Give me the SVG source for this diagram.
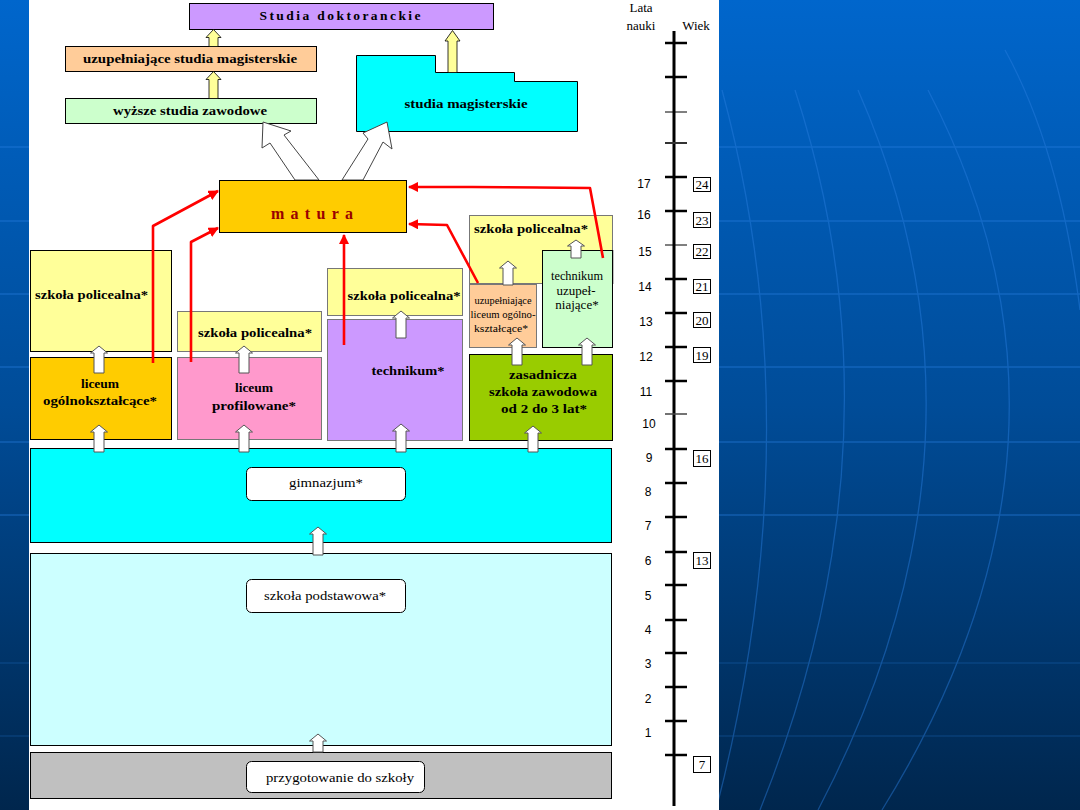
<svg xmlns="http://www.w3.org/2000/svg" width="1080" height="810" viewBox="0 0 1080 810">
<defs>
<linearGradient id="bg" x1="0" y1="0" x2="0" y2="1">
<stop offset="0" stop-color="#0066cc"/>
<stop offset="0.5" stop-color="#004c98"/>
<stop offset="1" stop-color="#00264d"/>
</linearGradient>
<marker id="rh" viewBox="0 0 10 10" refX="9" refY="5" markerWidth="4" markerHeight="4" orient="auto" markerUnits="strokeWidth">
<path d="M0,0 L10,5 L0,10 z" fill="#ff0000"/>
</marker>
<style>
.bx{stroke:#000;stroke-width:1}
.bg2{stroke:#777;stroke-width:1}
.b{font-family:"Liberation Serif",serif;font-weight:bold;font-size:13.5px;fill:#000}
.r{font-family:"Liberation Serif",serif;font-size:13px;fill:#000}
.sm{font-family:"Liberation Serif",serif;font-size:10px;fill:#000}
.lab{fill:#fff;stroke:#000;stroke-width:1}
.wa{fill:#fff;stroke:#555;stroke-width:1}
.ya{fill:#ffff99;stroke:#000;stroke-width:0.8}
.ha{fill:#fff;stroke:#444;stroke-width:1}
.red{fill:none;stroke:#ff0000;stroke-width:2.6;stroke-linejoin:round}
.tk{stroke:#000;stroke-width:2.5}
.tn{stroke:#000;stroke-width:1}
.num{font-family:"Liberation Sans",sans-serif;font-size:12px;fill:#000}
.age{font-family:"Liberation Serif",serif;font-size:13px;fill:#000}
.bgl{fill:none;stroke:#2a7fe0;stroke-width:1.3;opacity:0.45}
</style>
</defs>

<!-- background -->
<rect x="0" y="0" width="1080" height="810" fill="url(#bg)"/>
<g class="bgl">
<line x1="0" y1="147" x2="1080" y2="147"/>
<line x1="0" y1="221" x2="1080" y2="221"/>
<line x1="0" y1="294" x2="1080" y2="294"/>
<line x1="0" y1="367" x2="1080" y2="367"/>
<line x1="0" y1="442" x2="1080" y2="442"/>
<line x1="0" y1="515" x2="1080" y2="515"/>
<line x1="0" y1="663" x2="1080" y2="663" opacity="0.5"/>
<line x1="0" y1="736" x2="1080" y2="736" opacity="0.5"/>
<path d="M722,90 Q814,430 716,810"/>
<path d="M795,90 Q909,440 760,810"/>
<path d="M858,90 Q1012,440 818,810"/>
<path d="M928,90 Q1111,440 882,810"/>
<path d="M1005,50 Q1060,150 1080,310"/>
</g>
<rect x="29" y="0" width="690" height="810" fill="#fff"/>

<!-- top tier -->
<g id="studia-doktoranckie">
<rect class="bx" x="189.5" y="3.5" width="304" height="26" fill="#cc99ff"/>
<text class="b" x="340" y="20" text-anchor="middle" textLength="161" lengthAdjust="spacing">Studia doktoranckie</text>
</g>
<g id="uzup-studia-mag">
<rect class="bx" x="65.5" y="46.5" width="251" height="25" fill="#ffcc99"/>
<text class="b" x="190" y="63" text-anchor="middle" textLength="214" lengthAdjust="spacingAndGlyphs">uzupełniające studia magisterskie</text>
</g>
<g id="wyzsze-studia">
<rect class="bx" x="65.5" y="98.5" width="251" height="25" fill="#ccffcc"/>
<text class="b" x="190" y="115" text-anchor="middle" textLength="154" lengthAdjust="spacingAndGlyphs">wyższe studia zawodowe</text>
</g>
<g id="studia-magisterskie">
<polygon class="bx" points="356.5,55.5 435.5,55.5 435.5,72.5 514.5,72.5 514.5,81.5 577.5,81.5 577.5,131.5 356.5,131.5" fill="#00ffff"/>
<text class="b" x="466" y="108" text-anchor="middle" textLength="123" lengthAdjust="spacingAndGlyphs">studia magisterskie</text>
</g>

<!-- yellow arrows -->
<g id="yellow-arrows">
<polygon class="ya" points="213.5,29.5 221,37.5 218,37.5 218,46.5 209,46.5 209,37.5 206,37.5"/>
<polygon class="ya" points="213.5,71.5 221,79.5 218,79.5 218,98.5 209,98.5 209,79.5 206,79.5"/>
<polygon class="ya" points="452.5,30.5 460,41 457,41 457,72.5 448,72.5 448,41 445,41"/>
</g>

<!-- hollow arrows from matura -->
<g id="hollow-arrows">
<polygon class="ha" points="263,122 291,131 284,135 319,180 295,180 270,143 262,148"/>
<polygon class="ha" points="387,122 392,149 383,142 363,180 342,180 368,139 363,133"/>
</g>

<g id="matura">
<rect class="bx" x="219.5" y="180.5" width="187" height="52" fill="#ffcc00"/>
<text x="312" y="219" text-anchor="middle" font-family="'Liberation Serif',serif" font-weight="bold" font-size="16" fill="#990000" textLength="82" lengthAdjust="spacing">matura</text>
</g>

<!-- upper-secondary tier -->
<g id="policealna-1">
<rect class="bx" x="30.5" y="250.5" width="141" height="101" fill="#ffff99"/>
<text class="b" x="35" y="299" textLength="113" lengthAdjust="spacingAndGlyphs">szkoła policealna*</text>
</g>
<g id="liceum-ogolnoksztalcace">
<rect class="bx" x="30.5" y="357.5" width="141" height="82" fill="#ffcc00"/>
<text class="b" x="100" y="388" text-anchor="middle">liceum</text>
<text class="b" x="100" y="405" text-anchor="middle" textLength="114" lengthAdjust="spacingAndGlyphs">ogólnokształcące*</text>
</g>
<g id="policealna-2">
<rect class="bg2" x="177.5" y="311.5" width="144" height="40" fill="#ffff99"/>
<text class="b" x="255" y="337" text-anchor="middle" textLength="114" lengthAdjust="spacingAndGlyphs">szkoła policealna*</text>
</g>
<g id="liceum-profilowane">
<rect class="bg2" x="177.5" y="357.5" width="144" height="82" fill="#ff99cc"/>
<text class="b" x="254" y="392" text-anchor="middle">liceum</text>
<text class="b" x="254" y="410" text-anchor="middle" textLength="84" lengthAdjust="spacingAndGlyphs">profilowane*</text>
</g>
<g id="policealna-3">
<rect class="bg2" x="327.5" y="268.5" width="135" height="47" fill="#ffff99"/>
<text class="b" x="404" y="300" text-anchor="middle" textLength="113" lengthAdjust="spacingAndGlyphs">szkoła policealna*</text>
</g>
<g id="technikum">
<rect class="bg2" x="327.5" y="319.5" width="135" height="121" fill="#cc99ff"/>
<text class="b" x="408" y="375" text-anchor="middle" textLength="73" lengthAdjust="spacingAndGlyphs">technikum*</text>
</g>
<g id="policealna-4">
<rect class="bg2" x="469.5" y="215.5" width="143" height="68" fill="#ffff99"/>
<line x1="612.5" y1="250" x2="612.5" y2="284" stroke="#000" stroke-width="1.5"/>
<text class="b" x="474" y="233" textLength="114" lengthAdjust="spacingAndGlyphs">szkoła policealna*</text>
</g>
<g id="uzup-liceum">
<rect class="bg2" x="469.5" y="284.5" width="67" height="63" fill="#ffcc99"/>
<text class="sm" x="503" y="304" text-anchor="middle" textLength="57" lengthAdjust="spacingAndGlyphs">uzupełniające</text>
<text class="sm" x="503" y="318" text-anchor="middle" textLength="65" lengthAdjust="spacingAndGlyphs">liceum ogólno-</text>
<text class="sm" x="501" y="332" text-anchor="middle" textLength="54" lengthAdjust="spacingAndGlyphs">kształcące*</text>
</g>
<g id="technikum-uzup">
<rect class="bx" x="542.5" y="250.5" width="70" height="97" fill="#ccffcc"/>
<text class="r" x="577" y="280" text-anchor="middle" textLength="52" lengthAdjust="spacingAndGlyphs">technikum</text>
<text class="r" x="576" y="295" text-anchor="middle">uzupeł-</text>
<text class="r" x="577" y="309" text-anchor="middle">niające*</text>
</g>
<g id="zasadnicza">
<rect class="bx" x="469.5" y="354.5" width="143" height="86" fill="#99cc00"/>
<text class="b" x="543" y="379" text-anchor="middle" textLength="68" lengthAdjust="spacingAndGlyphs">zasadnicza</text>
<text class="b" x="543" y="396" text-anchor="middle" textLength="108" lengthAdjust="spacingAndGlyphs">szkoła zawodowa</text>
<text class="b" x="544" y="413" text-anchor="middle" textLength="86" lengthAdjust="spacingAndGlyphs">od 2 do 3 lat*</text>
</g>

<!-- lower tiers -->
<g id="gimnazjum">
<rect class="bx" x="30.5" y="448.5" width="581" height="94" fill="#00ffff"/>
<rect class="lab" x="246.5" y="467.5" width="159" height="33" rx="5"/>
<text class="r" x="326" y="487" text-anchor="middle" textLength="74" lengthAdjust="spacingAndGlyphs">gimnazjum*</text>
</g>
<g id="szkola-podstawowa">
<rect class="bx" x="30.5" y="553.5" width="581" height="192" fill="#ccffff"/>
<rect class="lab" x="246.5" y="579.5" width="159" height="33" rx="5"/>
<text class="r" x="325" y="600" text-anchor="middle" textLength="122" lengthAdjust="spacingAndGlyphs">szkoła podstawowa*</text>
</g>
<g id="przygotowanie">
<rect class="bx" x="30.5" y="752.5" width="581" height="46" fill="#c0c0c0"/>
<rect class="lab" x="246.5" y="761.5" width="178" height="31" rx="5"/>
<text class="r" x="340" y="782" text-anchor="middle" textLength="148" lengthAdjust="spacingAndGlyphs">przygotowanie do szkoły</text>
</g>

<!-- white up arrows -->
<g id="up-arrows">
<polygon class="wa" points="99,346 107.5,353 104,353 104,373 94,373 94,353 90.5,353"/>
<polygon class="wa" points="244,346 252.5,353 249,353 249,373 239,373 239,353 235.5,353"/>
<polygon class="wa" points="99,425 107.5,432 104,432 104,452 94,452 94,432 90.5,432"/>
<polygon class="wa" points="244,425 252.5,432 249,432 249,452 239,452 239,432 235.5,432"/>
<polygon class="wa" points="401,311 409.5,318 406,318 406,338 396,338 396,318 392.5,318"/>
<polygon class="wa" points="401,424 409.5,431 406,431 406,452 396,452 396,431 392.5,431"/>
<polygon class="wa" points="517,338 525.5,345 522,345 522,365 512,365 512,345 508.5,345"/>
<polygon class="wa" points="587,338 595.5,345 592,345 592,365 582,365 582,345 578.5,345"/>
<polygon class="wa" points="508,261 516.5,268 513,268 513,285 503,285 503,268 499.5,268"/>
<polygon class="wa" points="576,240 584.5,246 581,246 581,258 571,258 571,246 567.5,246"/>
<polygon class="wa" points="533,426 541.5,433 538,433 538,452 528,452 528,433 524.5,433"/>
<polygon class="wa" points="318,527 326.5,534 323,534 323,555 313,555 313,534 309.5,534"/>
<polygon class="wa" points="318,734 326.5,741 323,741 323,752 313,752 313,741 309.5,741"/>
</g>

<!-- red connectors to matura -->
<g id="connectors">
<polyline class="red" points="153,363 153,226 218,191" marker-end="url(#rh)"/>
<polyline class="red" points="191,362 191,242 218,228" marker-end="url(#rh)"/>
<polyline class="red" points="344,345 344,235" marker-end="url(#rh)"/>
<polyline class="red" points="478,283 447,225 409,224" marker-end="url(#rh)"/>
<polyline class="red" points="603,258 590,188 472,187 409,187" marker-end="url(#rh)"/>
</g>

<!-- timeline -->
<g id="timeline">
<text class="age" x="641" y="12" text-anchor="middle">Lata</text>
<text class="age" x="641" y="30" text-anchor="middle">nauki</text>
<text class="age" x="696" y="30" text-anchor="middle">Wiek</text>
<line x1="674" y1="31" x2="674" y2="806" stroke="#000" stroke-width="3"/>
<g>
<line class="tk" x1="665" y1="43" x2="687" y2="43"/>
<line class="tk" x1="665" y1="77" x2="687" y2="77"/>
<line class="tn" x1="665" y1="112" x2="687" y2="112"/>
<line x1="665" y1="143" x2="687" y2="143" stroke="#333" stroke-width="2"/>
<line class="tk" x1="665" y1="177" x2="687" y2="177"/>
<line class="tk" x1="665" y1="211" x2="687" y2="211"/>
<line class="tn" x1="665" y1="245" x2="687" y2="245"/>
<line class="tk" x1="665" y1="279" x2="687" y2="279"/>
<line class="tk" x1="665" y1="313" x2="687" y2="313"/>
<line class="tk" x1="665" y1="347" x2="687" y2="347"/>
<line class="tk" x1="665" y1="381" x2="687" y2="381"/>
<line x1="665" y1="414" x2="687" y2="414" stroke="#444" stroke-width="1.5"/>
<line class="tk" x1="665" y1="449" x2="687" y2="449"/>
<line class="tk" x1="665" y1="483" x2="687" y2="483"/>
<line class="tk" x1="665" y1="517" x2="687" y2="517"/>
<line class="tk" x1="665" y1="552" x2="687" y2="552"/>
<line class="tk" x1="665" y1="585" x2="687" y2="585"/>
<line class="tk" x1="665" y1="620" x2="687" y2="620"/>
<line class="tk" x1="665" y1="653" x2="687" y2="653"/>
<line class="tk" x1="665" y1="687" x2="687" y2="687"/>
<line class="tk" x1="665" y1="721" x2="687" y2="721"/>
<line class="tk" x1="665" y1="755" x2="687" y2="755"/>
</g>
<g text-anchor="middle">
<text class="num" x="644" y="188">17</text>
<text class="num" x="644" y="219">16</text>
<text class="num" x="645" y="256">15</text>
<text class="num" x="645" y="291">14</text>
<text class="num" x="646" y="326">13</text>
<text class="num" x="646" y="361">12</text>
<text class="num" x="646" y="396">11</text>
<text class="num" x="649" y="428">10</text>
<text class="num" x="649" y="462">9</text>
<text class="num" x="648" y="496">8</text>
<text class="num" x="648" y="530">7</text>
<text class="num" x="648" y="565">6</text>
<text class="num" x="648" y="600">5</text>
<text class="num" x="648" y="634">4</text>
<text class="num" x="648" y="668">3</text>
<text class="num" x="648" y="703">2</text>
<text class="num" x="648" y="737">1</text>
</g>
<g fill="#fff" stroke="#000" stroke-width="1">
<rect x="693.5" y="177.5" width="17" height="14"/>
<rect x="693.5" y="212.5" width="17" height="15"/>
<rect x="693.5" y="244.5" width="17" height="14"/>
<rect x="693.5" y="279.5" width="17" height="14"/>
<rect x="693.5" y="312.5" width="17" height="15"/>
<rect x="693.5" y="347.5" width="17" height="15"/>
<rect x="693.5" y="450.5" width="17" height="16"/>
<rect x="693.5" y="552.5" width="17" height="16"/>
<rect x="693.5" y="756.5" width="17" height="16"/>
</g>
<g text-anchor="middle">
<text class="age" x="702" y="189">24</text>
<text class="age" x="702" y="225">23</text>
<text class="age" x="702" y="256">22</text>
<text class="age" x="702" y="291">21</text>
<text class="age" x="702" y="325">20</text>
<text class="age" x="702" y="360">19</text>
<text class="age" x="702" y="463">16</text>
<text class="age" x="702" y="565">13</text>
<text class="age" x="702" y="769">7</text>
</g>
</g>
</svg>
